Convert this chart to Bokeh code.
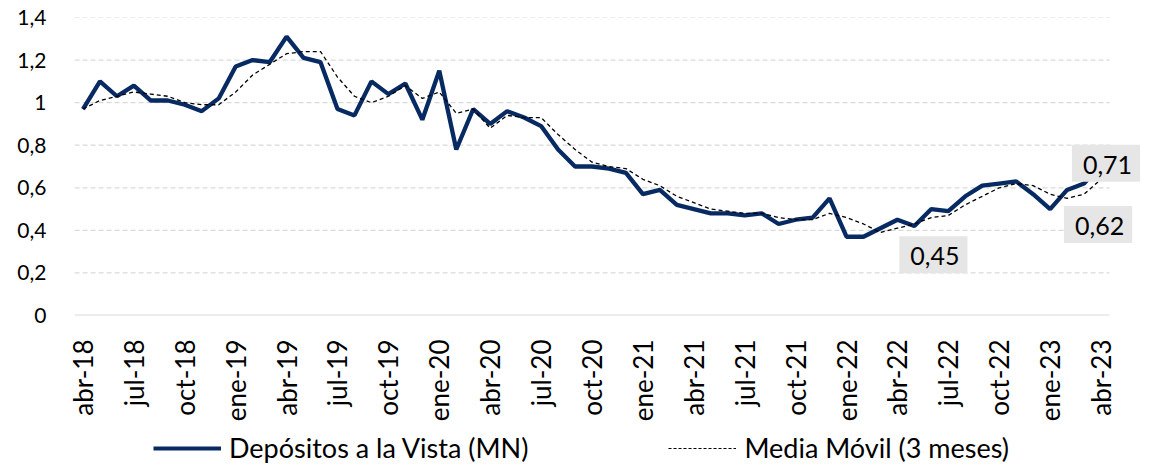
from bokeh.plotting import figure
from bokeh.layouts import column
from bokeh.models import Range1d, FixedTicker, Label, Legend, LegendItem, ColumnDataSource
from bokeh.embed import file_html
from bokeh.resources import INLINE
import math

# ---- data ----
months_n = 61  # abr-18 .. abr-23
depositos = [0.97, 1.10, 1.03, 1.08, 1.01, 1.01, 0.99, 0.96, 1.02, 1.17,
             1.20, 1.19, 1.31, 1.21, 1.19, 0.97, 0.94, 1.10, 1.04, 1.09,
             0.92, 1.15, 0.78, 0.97, 0.90, 0.96, 0.93, 0.89, 0.78, 0.70,
             0.70, 0.69, 0.67, 0.57, 0.59, 0.52, 0.50, 0.48, 0.48, 0.47,
             0.48, 0.43, 0.45, 0.46, 0.55, 0.37, 0.37, 0.41, 0.45, 0.42,
             0.50, 0.49, 0.56, 0.61, 0.62, 0.63, 0.57, 0.50, 0.59, 0.62,
             0.71]
media_movil = [0.97, 1.01, 1.03, 1.05, 1.04, 1.03, 1.00, 0.99, 0.99, 1.05,
               1.13, 1.18, 1.23, 1.24, 1.24, 1.12, 1.03, 1.00, 1.03, 1.08,
               1.02, 1.05, 0.95, 0.97, 0.88, 0.94, 0.93, 0.93, 0.85, 0.78,
               0.72, 0.70, 0.69, 0.64, 0.61, 0.56, 0.53, 0.50, 0.49, 0.48,
               0.48, 0.46, 0.45, 0.45, 0.48, 0.46, 0.43, 0.39, 0.41, 0.43,
               0.46, 0.47, 0.52, 0.56, 0.60, 0.62, 0.61, 0.57, 0.55, 0.57,
               0.64]
x_tick_labels = ["abr-18", "jul-18", "oct-18", "ene-19", "abr-19", "jul-19",
                 "oct-19", "ene-20", "abr-20", "jul-20", "oct-20", "ene-21",
                 "abr-21", "jul-21", "oct-21", "ene-22", "abr-22", "jul-22",
                 "oct-22", "ene-23", "abr-23"]
y_ticks = [0, 0.2, 0.4, 0.6, 0.8, 1.0, 1.2, 1.4]
y_tick_labels = ["0", "0,2", "0,4", "0,6", "0,8", "1", "1,2", "1,4"]
annot_idx = [48, 59, 60]
annot_text = ["0,45", "0,62", "0,71"]
series_names = ["Depósitos a la Vista (MN)", "Media Móvil (3 meses)"]

FONT = "Lato"
NAVY = "#082a62"
GRID = "#d9d9d9"

x = list(range(months_n))
src = ColumnDataSource(dict(x=x, dep=depositos, mm=media_movil))

# layout geometry (pixels)
W, H_MAIN, H_LEG = 1155, 425, 42
LEFT, TOP, BOTTOM_Y = 74, 17, 315
plot_right = 1109
cat_px = (plot_right - LEFT) / months_n
x_end = -0.5 + (W - LEFT) / cat_px

p = figure(width=W, height=H_MAIN, output_backend="svg", toolbar_location=None,
           x_range=Range1d(-0.5, x_end), y_range=Range1d(0, 1.4),
           min_border_left=LEFT, min_border_right=0, min_border_top=TOP,
           min_border_bottom=H_MAIN - BOTTOM_Y)
p.outline_line_color = None

x_ticks = list(range(0, months_n, 3))
p.xaxis.ticker = FixedTicker(ticks=x_ticks)
p.xaxis.major_label_overrides = {t: l for t, l in zip(x_ticks, x_tick_labels)}
p.xaxis.major_label_orientation = math.pi / 2
p.xaxis.major_label_text_font = FONT
p.xaxis.major_label_text_font_size = "26px"
p.xaxis.major_label_text_color = "#000000"
p.xaxis.major_label_standoff = 18
p.xaxis.major_tick_line_color = None
p.xaxis.minor_tick_line_color = None
p.xaxis.axis_line_color = None

p.yaxis.ticker = FixedTicker(ticks=y_ticks)
p.yaxis.major_label_overrides = {t: l for t, l in zip(y_ticks, y_tick_labels)}
p.yaxis.major_label_text_font = FONT
p.yaxis.major_label_text_font_size = "21px"
p.yaxis.major_label_text_color = "#000000"
p.yaxis.major_label_standoff = 22
p.yaxis.major_tick_line_color = None
p.yaxis.minor_tick_line_color = None
p.yaxis.axis_line_color = None
p.grid.grid_line_color = None

# gridlines limited to the category span
p.segment(x0=-0.5, x1=months_n - 0.5, y0=y_ticks[1:], y1=y_ticks[1:],
          line_color=GRID, line_width=1.2, line_dash="5 3")
p.segment(x0=-0.5, x1=months_n - 0.5, y0=y_ticks[0], y1=y_ticks[0],
          line_color=GRID, line_width=2)

p.line("x", "dep", source=src, line_color=NAVY, line_width=4.3)
p.line("x", "mm", source=src, line_color="#000000", line_width=1.3, line_dash="4 3")

offsets = [(36, -35), (14, -41), (5, 1)]
for i, t, (dx, dy) in zip(annot_idx, annot_text, offsets):
    p.add_layout(Label(x=i, y=depositos[i], text=t, x_offset=dx, y_offset=dy,
                       text_align="center", text_baseline="middle",
                       text_font=FONT, text_font_size="25px",
                       text_color="#000000",
                       background_fill_color="#e6e6e6",
                       background_fill_alpha=1.0, padding=(11, 8, 11, 8)))

# legend strip (its renderers reuse the data, kept outside the visible range)
pl = figure(width=W, height=H_LEG, output_backend="svg", toolbar_location=None,
            x_range=Range1d(0, 1), y_range=Range1d(10, 11),
            min_border_left=0, min_border_right=0, min_border_top=0,
            min_border_bottom=0, x_axis_type=None, y_axis_type=None)
pl.outline_line_color = None
pl.grid.grid_line_color = None
l1 = pl.line("x", "dep", source=src, line_color=NAVY, line_width=4)
l2 = pl.line("x", "mm", source=src, line_color="#000000", line_width=1.2, line_dash="3 2")
legend = Legend(items=[LegendItem(label=series_names[0], renderers=[l1]),
                       LegendItem(label=series_names[1], renderers=[l2])],
                orientation="horizontal", location=(79, 3),
                spacing=140, glyph_width=68, glyph_height=30, label_standoff=8,
                label_height=30,
                label_text_font=FONT, label_text_font_size="27px",
                label_text_color="#000000", label_text_baseline="middle",
                border_line_color=None, background_fill_alpha=0,
                padding=0, margin=0)
pl.add_layout(legend, "center")

layout = column(p, pl, spacing=0)
open("out.html", "w").write(file_html(layout, INLINE))
